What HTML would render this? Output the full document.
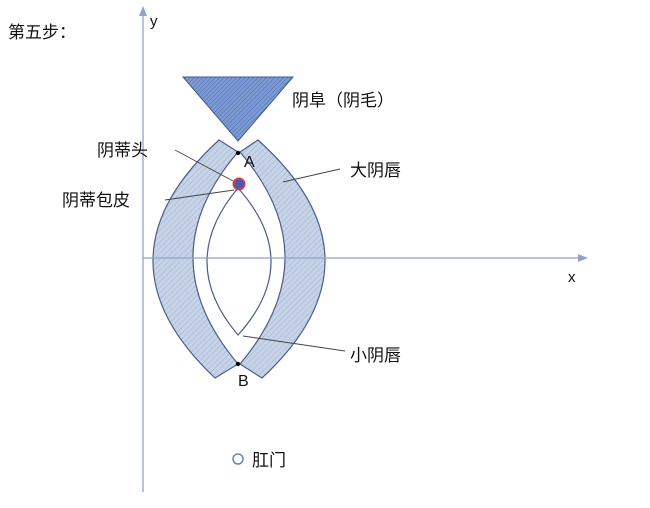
<!DOCTYPE html>
<html><head><meta charset="utf-8"><style>
body{margin:0;background:#fff;}
svg text{font-family:"Liberation Sans","Noto Sans CJK SC",sans-serif;fill:#111;}
</style></head><body>
<svg width="650" height="503" viewBox="0 0 650 503" xmlns="http://www.w3.org/2000/svg">
<defs>
<pattern id="h" width="4" height="4" patternUnits="userSpaceOnUse" patternTransform="rotate(45)">
<rect width="4" height="4" fill="#c7d3e6"/><line x1="0" y1="0" x2="0" y2="4" stroke="#9fb0cf" stroke-width="1"/></pattern>
<pattern id="t" width="3" height="3" patternUnits="userSpaceOnUse" patternTransform="rotate(45)">
<rect width="3" height="3" fill="#7f9bd3"/><line x1="0" y1="0" x2="0" y2="3" stroke="#4a6ab0" stroke-width="1"/></pattern>
</defs>
<line x1="143" y1="492" x2="143" y2="12" stroke="#8fa3cc" stroke-width="1.3"/>
<polygon points="143,6 139,16 147,16" fill="#8fa3cc"/>
<text x="150" y="26" font-size="15">y</text>
<text x="568" y="282" font-size="15">x</text>
<text x="8" y="38" font-size="17">第五步：</text>
<polygon points="183,77 293,77 238,141" fill="url(#t)" stroke="#41598f" stroke-width="1"/>
<path d="M219,140 Q89,259 215,378 L238,364 Q148,257 238,152 Z" fill="url(#h)" stroke="#4a5f8f" stroke-width="1.2"/>
<path d="M258,140 Q390,259 262,378 L240,364 Q330,257 240,152 Z" fill="url(#h)" stroke="#4a5f8f" stroke-width="1.2"/>
<path d="M238,188 Q176,262 238,335 Q304,262 238,188 Z" fill="#fff" stroke="#4a5f8f" stroke-width="1.2"/>
<line x1="143" y1="258" x2="582" y2="258" stroke="#8fa3cc" stroke-width="1.3"/>
<polygon points="588,258 578,254 578,262" fill="#8fa3cc"/>
<line x1="175" y1="150" x2="233" y2="181" stroke="#444" stroke-width="0.9"/>
<line x1="165" y1="200" x2="234" y2="190" stroke="#444" stroke-width="0.9"/>
<line x1="283" y1="182" x2="340" y2="169" stroke="#444" stroke-width="0.9"/>
<line x1="243" y1="336" x2="345" y2="351" stroke="#444" stroke-width="0.9"/>
<circle cx="238" cy="153" r="2.2" fill="#000"/>
<circle cx="238" cy="364" r="2.2" fill="#000"/>
<circle cx="239" cy="184" r="5.5" fill="#3d5fb0" stroke="#d9364f" stroke-width="2"/>
<text x="244" y="167" font-size="16">A</text>
<text x="238" y="386" font-size="16">B</text>
<text x="292" y="106" font-size="17">阴阜（阴毛）</text>
<text x="97" y="156" font-size="17">阴蒂头</text>
<text x="62" y="206" font-size="17">阴蒂包皮</text>
<text x="350" y="176" font-size="17">大阴唇</text>
<text x="350" y="361" font-size="17">小阴唇</text>
<circle cx="238" cy="459" r="5" fill="none" stroke="#6a85c0" stroke-width="1.5"/>
<text x="252" y="466" font-size="17">肛门</text>
</svg>
</body></html>
